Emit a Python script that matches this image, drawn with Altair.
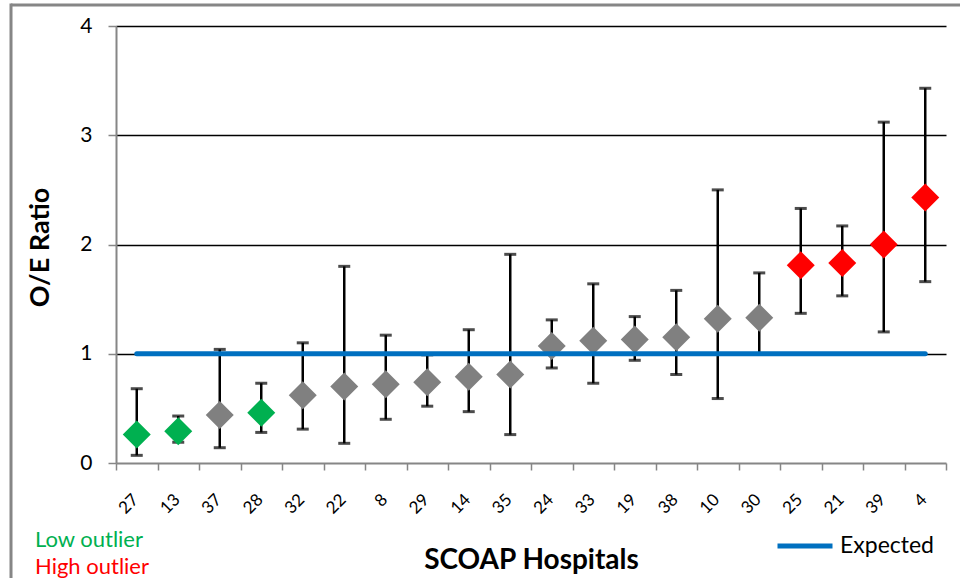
import altair as alt
import pandas as pd

# ---- data ----
hospitals = ["27", "13", "37", "28", "32", "22", "8", "29", "14", "35",
             "24", "33", "19", "38", "10", "30", "25", "21", "39", "4"]
oe_ratio = [0.26, 0.29, 0.44, 0.46, 0.62, 0.70, 0.72, 0.74, 0.79, 0.81,
            1.07, 1.12, 1.13, 1.15, 1.32, 1.33, 1.81, 1.83, 2.00, 2.43]
ci_lower = [0.07, 0.19, 0.14, 0.28, 0.31, 0.18, 0.40, 0.52, 0.47, 0.26,
            0.87, 0.73, 0.94, 0.81, 0.59, 1.00, 1.37, 1.53, 1.20, 1.66]
ci_upper = [0.68, 0.43, 1.04, 0.73, 1.10, 1.80, 1.17, 0.99, 1.22, 1.91,
            1.31, 1.64, 1.34, 1.58, 2.50, 1.74, 2.33, 2.17, 3.12, 3.43]
status = ["Low outlier", "Low outlier", "Within", "Low outlier", "Within",
          "Within", "Within", "Within", "Within", "Within",
          "Within", "Within", "Within", "Within", "Within",
          "Within", "High outlier", "High outlier", "High outlier", "High outlier"]
expected_value = 1
y_ticks = [0, 1, 2, 3, 4]
note_labels = ["Low outlier", "High outlier"]
series_name = "Expected"

FONT = "Lato"
GRAY = "#868686"

df = pd.DataFrame({
    "hospital": hospitals,
    "oe": oe_ratio,
    "lower": ci_lower,
    "upper": ci_upper,
    "status": status,
})
exp_df = pd.DataFrame({
    "hospital": hospitals,
    "expected": [expected_value] * len(hospitals),
    "series": [series_name] * len(hospitals),
})

x_axis = alt.Axis(
    title="SCOAP Hospitals", titleFontSize=28, titleFontWeight="bold", titleFont=FONT,
    titleY=105, titleBaseline="alphabetic", titleColor="black",
    labelAngle=-45, labelFontSize=17, labelFont=FONT, labelColor="black",
    labelPadding=21, labelOffset=-7, tickBand="extent", tickSize=7, tickColor=GRAY, tickWidth=1.5,
    domainColor=GRAY, domainWidth=2, grid=False,
)
x_enc = alt.X("hospital:N", sort=hospitals,
              scale=alt.Scale(type="band", paddingInner=0, paddingOuter=0),
              axis=x_axis)

y_axis = alt.Axis(
    title="O/E Ratio", titleFontSize=27, titleFontWeight="bold", titleFont=FONT,
    titleX=-76, titleY=221, titleBaseline="middle", titleAlign="center", titleColor="black",
    values=y_ticks, labelFontSize=21, labelFont=FONT, labelColor="black", labelPadding=16,
    tickSize=8, tickColor=GRAY, tickWidth=1.5, domainColor=GRAY, domainWidth=2,
    grid=True, gridWidth=1.5,
    gridColor={"condition": {"test": "datum.value === 0", "value": "transparent"}, "value": "black"},
)


def y_enc(field):
    return alt.Y(f"{field}:Q", scale=alt.Scale(domain=[0, 4]), axis=y_axis)


base = alt.Chart(df).encode(x=x_enc)

bars = base.mark_rule(color="black", strokeWidth=2.5).encode(y=y_enc("lower"), y2="upper:Q")
cap_lo = base.mark_tick(color="black", thickness=3, size=12).encode(y=y_enc("lower"))
cap_hi = base.mark_tick(color="black", thickness=3, size=12).encode(y=y_enc("upper"))

points = base.mark_point(shape="diamond", filled=True, size=784, opacity=1).encode(
    y=y_enc("oe"),
    color=alt.Color("status:N",
                    scale=alt.Scale(domain=["Low outlier", "Within", "High outlier"],
                                    range=["#00B050", "#808080", "#FF0000"]),
                    legend=None),
)

line = alt.Chart(exp_df).mark_line(strokeWidth=5, strokeCap="round").encode(
    x=x_enc,
    y=y_enc("expected"),
    color=alt.Color("series:N", scale=alt.Scale(range=["#0070C0"]),
                    legend=alt.Legend(orient="none", legendX=659, legendY=490, title=None,
                                      symbolType="stroke", symbolStrokeWidth=5, symbolSize=3025,
                                      labelFontSize=23, labelFont=FONT, labelColor="black",
                                      labelOffset=5, padding=0)),
)

low_txt = alt.Chart(pd.DataFrame({"t": [note_labels[0]]})).mark_text(
    align="left", baseline="alphabetic", fontSize=22, font=FONT, color="#00B050"
).encode(text="t:N", x=alt.value(-81), y=alt.value(521))
high_txt = alt.Chart(pd.DataFrame({"t": [note_labels[1]]})).mark_text(
    align="left", baseline="alphabetic", fontSize=22, font=FONT, color="#FF0000"
).encode(text="t:N", x=alt.value(-81), y=alt.value(548))

frame_top = alt.Chart(pd.DataFrame({"a": [0]})).mark_rule(color=GRAY, strokeWidth=3).encode(
    x=alt.value(-105), x2=alt.value(850), y=alt.value(-21))
frame_left = alt.Chart(pd.DataFrame({"a": [0]})).mark_rule(color=GRAY, strokeWidth=3).encode(
    x=alt.value(-105), y=alt.value(-22.5), y2=alt.value(560))

chart = alt.layer(
    frame_top, frame_left, bars, cap_lo, cap_hi, points, line, low_txt, high_txt
).resolve_scale(color="independent").properties(
    width=830, height=437,
    autosize=alt.AutoSizeParams(type="none"),
    padding={"left": 116, "top": 26, "right": 14, "bottom": 115},
    background="white",
).configure_view(stroke=None)

chart.save("out.html", embed_options={"renderer": "svg", "actions": False})
